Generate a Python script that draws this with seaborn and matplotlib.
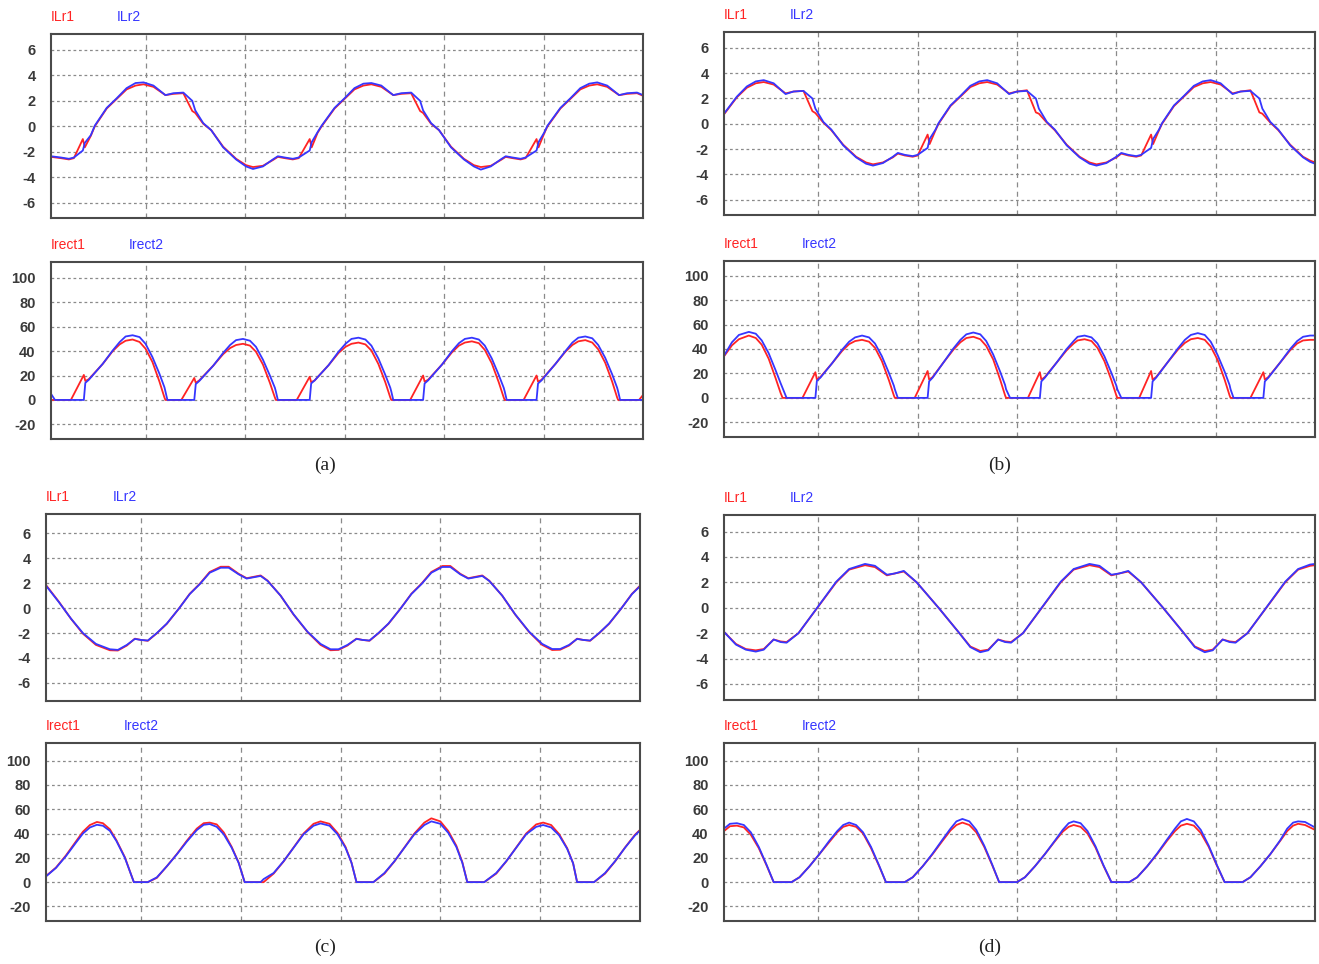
import pandas as pd
import matplotlib.pyplot as plt
import seaborn as sns

# ---------------- (a) ----------------
a_ilr_t = [0.05, 0.15, 0.23, 0.28, 0.37, 0.39, 0.45, 0.49, 0.61, 0.71, 0.81, 0.90, 0.98, 1.08, 1.20, 1.28,
           1.38, 1.47, 1.50, 1.58, 1.66, 1.78, 1.91, 2.01, 2.08, 2.18, 2.28, 2.33, 2.40, 2.48, 2.54, 2.65,
           2.67, 2.73, 2.77, 2.90, 3.00, 3.10, 3.19, 3.27, 3.37, 3.49, 3.57, 3.67, 3.76, 3.79, 3.87, 3.95,
           4.07, 4.20, 4.30, 4.37, 4.47, 4.57, 4.62, 4.69, 4.77, 4.82, 4.93, 4.95, 5.01, 5.04, 5.17, 5.27,
           5.37, 5.46, 5.54, 5.64, 5.76, 5.84, 5.94, 6.00]
a_ilr1 = [-2.40, -2.50, -2.60, -2.50, -1.00, -1.65, -0.75, 0.00, 1.40, 2.15, 2.90, 3.20, 3.30, 3.10, 2.45, 2.55,
          2.60, 1.20, 1.05, 0.20, -0.30, -1.60, -2.55, -3.05, -3.20, -3.10, -2.65, -2.40, -2.50, -2.60, -2.50, -1.00,
          -1.65, -0.50, 0.00, 1.40, 2.15, 2.90, 3.20, 3.30, 3.10, 2.45, 2.55, 2.60, 1.20, 1.05, 0.20, -0.30,
          -1.60, -2.55, -3.05, -3.20, -3.10, -2.65, -2.40, -2.50, -2.60, -2.50, -1.00, -1.65, -0.50, 0.00, 1.40, 2.15,
          2.90, 3.20, 3.30, 3.10, 2.45, 2.55, 2.60, 2.40]
a_ilr2 = [-2.35, -2.45, -2.55, -2.45, -1.90, -1.30, -0.70, 0.05, 1.45, 2.20, 3.00, 3.40, 3.45, 3.20, 2.45, 2.60,
          2.65, 2.00, 1.25, 0.25, -0.30, -1.65, -2.60, -3.15, -3.35, -3.15, -2.60, -2.35, -2.45, -2.55, -2.45, -1.90,
          -1.25, -0.45, 0.05, 1.45, 2.20, 3.00, 3.35, 3.40, 3.20, 2.45, 2.60, 2.65, 2.00, 1.25, 0.25, -0.30,
          -1.65, -2.60, -3.15, -3.40, -3.15, -2.60, -2.35, -2.45, -2.55, -2.45, -1.90, -1.25, -0.45, 0.05, 1.45, 2.20,
          3.00, 3.35, 3.45, 3.20, 2.45, 2.60, 2.65, 2.45]

a_irect_t = [0.05, 0.09, 0.25, 0.38, 0.395, 0.43, 0.57, 0.67, 0.74, 0.80, 0.87, 0.94, 1.00, 1.07, 1.14, 1.19, 1.20, 1.22,
             1.36, 1.49, 1.505, 1.54, 1.68, 1.78, 1.85, 1.91, 1.98, 2.05, 2.11, 2.18, 2.25, 2.30, 2.31, 2.33,
             2.52, 2.65, 2.665, 2.70, 2.84, 2.94, 3.01, 3.07, 3.14, 3.21, 3.27, 3.34, 3.41, 3.46, 3.47, 3.49,
             3.66, 3.79, 3.805, 3.84, 3.98, 4.08, 4.15, 4.21, 4.28, 4.35, 4.41, 4.48, 4.55, 4.60, 4.61, 4.63,
             4.80, 4.93, 4.945, 4.98, 5.12, 5.22, 5.29, 5.35, 5.42, 5.49, 5.55, 5.62, 5.69, 5.74, 5.75, 5.77,
             5.96, 6.00]
a_irect1 = [0, 0, 0, 20.5, 15.5, 17, 29.5, 40, 45.5, 48.5, 49.5, 47.5, 42, 31, 15, 2, 0, 0,
            0, 18, 14, 16, 28, 37.5, 42.5, 45, 46, 44.5, 39.5, 29, 14, 2, 0, 0,
            0, 19, 14.5, 16, 28.5, 38.5, 43.5, 46, 47, 45.5, 40.5, 29.5, 14.5, 2, 0, 0,
            0, 20, 15, 16.5, 29, 39, 44.5, 47, 48, 46.5, 41, 30, 14.5, 2, 0, 0,
            0, 20, 15, 16.5, 29.5, 39.5, 45, 48, 49, 47, 41.5, 30.5, 15, 2, 0, 0,
            0, 4]
a_irect2 = [5, 0, 0, 0, 14, 16.5, 29.6, 40.5, 47.4, 52, 53, 51.5, 46, 35, 21.4, 10.4, 7, 0,
            0, 0, 13, 15.5, 28, 38.5, 45, 49, 50, 48.5, 43.5, 33, 20, 10, 7, 0,
            0, 0, 13.5, 16, 28.5, 39.5, 46, 50, 51, 49.5, 44.5, 34, 20.5, 10, 7, 0,
            0, 0, 13.5, 16, 29, 40, 46.5, 50, 51, 49.5, 44.5, 34, 20.5, 10, 7, 0,
            0, 0, 13.5, 16, 29.5, 40, 47, 51, 52, 50.5, 45, 34.5, 21, 10, 7, 0,
            0, 0]

# ---------------- (b) ----------------
b_ilr_t = [0.05, 0.18, 0.28, 0.37, 0.45, 0.55, 0.67, 0.75, 0.85, 0.94, 0.97, 1.05, 1.13, 1.25, 1.38, 1.48,
           1.55, 1.65, 1.75, 1.80, 1.87, 1.95, 2.00, 2.10, 2.12, 2.18, 2.21, 2.33, 2.43, 2.53, 2.62, 2.70,
           2.80, 2.92, 3.00, 3.10, 3.19, 3.22, 3.30, 3.38, 3.50, 3.63, 3.73, 3.80, 3.90, 4.00, 4.05, 4.12,
           4.20, 4.25, 4.35, 4.37, 4.43, 4.46, 4.58, 4.68, 4.78, 4.87, 4.95, 5.05, 5.17, 5.25, 5.35, 5.44,
           5.47, 5.55, 5.63, 5.75, 5.88, 5.95, 6.00]
b_ilr1 = [0.75, 2.10, 2.85, 3.20, 3.30, 3.10, 2.40, 2.55, 2.60, 1.00, 0.85, 0.10, -0.50, -1.65, -2.60, -3.05,
          -3.20, -3.05, -2.65, -2.35, -2.50, -2.60, -2.50, -0.85, -1.60, -0.50, 0.00, 1.40, 2.15, 2.90, 3.20, 3.30,
          3.10, 2.40, 2.55, 2.65, 0.90, 0.80, 0.10, -0.50, -1.65, -2.60, -3.05, -3.20, -3.05, -2.65, -2.35, -2.50,
          -2.60, -2.50, -0.85, -1.60, -0.50, 0.00, 1.40, 2.15, 2.90, 3.20, 3.30, 3.10, 2.40, 2.55, 2.65, 0.90,
          0.80, 0.10, -0.50, -1.65, -2.60, -2.90, -3.05]
b_ilr2 = [0.80, 2.15, 2.95, 3.35, 3.45, 3.20, 2.35, 2.55, 2.60, 2.00, 1.20, 0.15, -0.45, -1.70, -2.65, -3.15,
          -3.30, -3.10, -2.60, -2.30, -2.45, -2.55, -2.45, -1.90, -1.20, -0.45, 0.05, 1.45, 2.20, 3.00, 3.35, 3.45,
          3.20, 2.35, 2.55, 2.60, 2.00, 1.20, 0.15, -0.45, -1.70, -2.65, -3.15, -3.30, -3.10, -2.60, -2.30, -2.45,
          -2.55, -2.45, -1.90, -1.20, -0.45, 0.05, 1.45, 2.20, 3.00, 3.35, 3.45, 3.20, 2.35, 2.55, 2.60, 2.00,
          1.20, 0.15, -0.45, -1.70, -2.65, -3.00, -3.15]

b_irect_t = [0.05, 0.13, 0.20, 0.30, 0.37, 0.43, 0.50, 0.57, 0.62, 0.64, 0.68,
             0.84, 0.97, 0.985, 1.02, 1.14, 1.24, 1.31, 1.37, 1.44, 1.51, 1.57, 1.64, 1.71, 1.76, 1.77, 1.80,
             1.97, 2.10, 2.115, 2.15, 2.26, 2.36, 2.43, 2.49, 2.56, 2.63, 2.69, 2.76, 2.83, 2.88, 2.89, 2.93,
             3.11, 3.23, 3.245, 3.28, 3.40, 3.50, 3.57, 3.61, 3.68, 3.75, 3.81, 3.88, 3.95, 4.00, 4.01, 4.05,
             4.23, 4.35, 4.365, 4.40, 4.52, 4.62, 4.69, 4.75, 4.82, 4.89, 4.95, 5.02, 5.09, 5.14, 5.15, 5.18,
             5.35, 5.48, 5.495, 5.53, 5.65, 5.75, 5.82, 5.88, 5.95, 6.00]
b_irect1 = [34, 43, 48, 51, 49, 43.5, 32, 16, 4, 0, 0,
            0, 21, 15, 17, 28.5, 38.5, 44, 46.5, 47.5, 46, 41, 30, 14.5, 2, 0, 0,
            0, 22, 15, 17, 29, 39.5, 45.5, 49, 50, 48, 42.5, 31.5, 15, 2, 0, 0,
            0, 21, 15, 17, 29, 39, 44.5, 47, 48, 46.5, 41, 30, 14.5, 2, 0, 0,
            0, 22, 15, 17, 29.5, 39.5, 45, 48, 49, 47.5, 42, 31, 15, 2, 0, 0,
            0, 21, 15, 17, 29, 39, 44.5, 47, 47.5, 47.5]
b_irect2 = [34.5, 45.5, 51.5, 54, 52.5, 47, 36.5, 22.5, 12, 8, 0,
            0, 0, 14, 16.5, 28.5, 39.5, 46, 49.5, 51, 49.5, 44.5, 34, 20.5, 10, 7, 0,
            0, 0, 13.5, 16.5, 29, 40.5, 47.5, 52, 53.5, 52, 46.5, 35.5, 21.5, 10.5, 7, 0,
            0, 0, 13.5, 16.5, 29, 40, 46.5, 50, 51, 49.5, 44.5, 34, 20.5, 10, 7, 0,
            0, 0, 13.5, 16.5, 29.5, 40.5, 47.5, 51.5, 53, 51.5, 46, 35, 21.5, 10.5, 7, 0,
            0, 0, 13.5, 16.5, 29, 40, 46.5, 50, 51, 51]

# ---------------- (c) ----------------
c_ilr_t = [0.05, 0.18, 0.30, 0.42, 0.55, 0.69, 0.77, 0.86, 0.94, 1.00, 1.07, 1.16, 1.26, 1.38, 1.49, 1.59,
           1.69, 1.80, 1.88, 1.98, 2.06, 2.20, 2.27, 2.40, 2.53, 2.67, 2.80, 2.90, 2.98, 3.07, 3.16, 3.22,
           3.29, 3.38, 3.48, 3.60, 3.71, 3.81, 3.91, 4.02, 4.10, 4.20, 4.28, 4.42, 4.49, 4.62, 4.75, 4.89,
           5.02, 5.12, 5.20, 5.29, 5.37, 5.43, 5.50, 5.59, 5.69, 5.81, 5.92, 6.00]
c_ilr1 = [1.85, 0.50, -0.85, -2.05, -2.95, -3.38, -3.40, -3.00, -2.45, -2.55, -2.62, -2.02, -1.26, -0.05, 1.15, 1.95,
          2.90, 3.32, 3.32, 2.75, 2.40, 2.62, 2.20, 1.00, -0.52, -1.92, -2.95, -3.38, -3.35, -3.00, -2.45, -2.55,
          -2.62, -2.02, -1.26, -0.05, 1.15, 1.95, 2.90, 3.38, 3.38, 2.75, 2.40, 2.62, 2.20, 1.00, -0.52, -1.92,
          -2.95, -3.36, -3.34, -3.00, -2.45, -2.55, -2.62, -2.02, -1.26, -0.05, 1.15, 1.80]
c_ilr2 = [1.80, 0.47, -0.84, -2.00, -2.87, -3.30, -3.35, -2.95, -2.47, -2.55, -2.60, -2.00, -1.24, -0.05, 1.13, 1.92,
          2.84, 3.24, 3.24, 2.71, 2.37, 2.58, 2.18, 1.00, -0.50, -1.90, -2.87, -3.30, -3.30, -2.95, -2.47, -2.55,
          -2.60, -2.00, -1.24, -0.05, 1.13, 1.92, 2.84, 3.30, 3.30, 2.71, 2.37, 2.58, 2.18, 1.00, -0.50, -1.90,
          -2.87, -3.28, -3.28, -2.95, -2.47, -2.55, -2.60, -2.00, -1.24, -0.05, 1.13, 1.75]

c_irect_t = [0.05, 0.15, 0.25, 0.35, 0.42, 0.49, 0.56, 0.62, 0.69, 0.755, 0.84, 0.89, 0.93,
             1.07, 1.16, 1.26, 1.36, 1.46, 1.56, 1.63, 1.69, 1.76, 1.83, 1.91, 1.98, 2.04,
             2.20, 2.23, 2.33, 2.43, 2.53, 2.63, 2.73, 2.80, 2.89, 2.97, 3.05, 3.11, 3.16,
             3.33, 3.44, 3.54, 3.64, 3.74, 3.84, 3.91, 4.00, 4.08, 4.16, 4.22, 4.27,
             4.44, 4.56, 4.66, 4.76, 4.86, 4.96, 5.03, 5.11, 5.19, 5.27, 5.33, 5.37,
             5.54, 5.65, 5.75, 5.85, 5.95, 6.00]
c_irect1 = [5.0, 12, 22, 33.5, 41.5, 47, 49.5, 48.5, 43.5, 34.5, 20.5, 9, 0,
            0, 3.5, 13, 23, 34, 44, 48.5, 49, 47.5, 41, 29, 16, 0,
            0, 0, 7, 17, 28.5, 40, 48, 50, 48, 40.5, 29, 16, 0,
            0, 7, 17, 28.5, 40, 49, 52.5, 50, 42, 30, 16.5, 0,
            0, 7, 17, 28.5, 40, 47.5, 49, 47, 39.5, 28, 15.5, 0,
            0, 7, 17, 28.5, 39, 43]
c_irect2 = [4.7, 11.7, 21.4, 32.5, 40, 45, 47.2, 46.4, 42.2, 33.9, 20, 8.9, 0,
            0, 3.9, 13, 22.8, 33.3, 42.8, 47.2, 47.8, 45.5, 39.4, 28.3, 15.8, 0,
            0, 2.5, 7.5, 17.2, 28.3, 39.4, 46.4, 48.3, 46.4, 39.4, 28.3, 16, 0,
            0, 7.5, 17.2, 28.3, 39.4, 47, 50, 48, 40.5, 29, 16, 0,
            0, 7.5, 17.2, 28.3, 39.4, 45.5, 47, 45, 38.5, 27.5, 15.5, 0,
            0, 7.5, 17.2, 28.3, 38.5, 42.5]

# ---------------- (d) ----------------
d_ilr_t = [0.05, 0.17, 0.27, 0.37, 0.45, 0.55, 0.62, 0.68, 0.80, 0.99, 1.18, 1.31, 1.47, 1.57, 1.69, 1.77,
           1.86, 1.99, 2.21, 2.42, 2.53, 2.63, 2.71, 2.81, 2.88, 2.94, 3.06, 3.25, 3.44, 3.57, 3.73, 3.83,
           3.95, 4.03, 4.12, 4.25, 4.47, 4.68, 4.79, 4.89, 4.97, 5.07, 5.14, 5.20, 5.32, 5.51, 5.70, 5.83,
           5.95, 6.00]
d_ilr1 = [-1.90, -2.85, -3.25, -3.35, -3.25, -2.50, -2.65, -2.70, -2.00, 0.00, 2.00, 3.00, 3.35, 3.20, 2.55, 2.70,
          2.85, 2.00, 0.00, -2.00, -3.05, -3.40, -3.30, -2.50, -2.65, -2.70, -2.00, 0.00, 2.00, 3.00, 3.35, 3.20,
          2.55, 2.70, 2.85, 2.00, 0.00, -2.00, -3.05, -3.40, -3.30, -2.50, -2.65, -2.70, -2.00, 0.00, 2.00, 3.00,
          3.30, 3.35]
d_ilr2 = [-1.90, -2.90, -3.30, -3.45, -3.30, -2.50, -2.70, -2.75, -2.00, 0.02, 2.05, 3.05, 3.45, 3.30, 2.60, 2.70,
          2.90, 2.00, 0.00, -2.00, -3.10, -3.50, -3.35, -2.50, -2.70, -2.75, -2.00, 0.02, 2.05, 3.05, 3.45, 3.30,
          2.60, 2.70, 2.90, 2.00, 0.00, -2.00, -3.10, -3.50, -3.35, -2.50, -2.70, -2.75, -2.00, 0.02, 2.05, 3.05,
          3.40, 3.45]

d_irect_t = [0.05, 0.11, 0.18, 0.25, 0.32, 0.40, 0.48, 0.55,
             0.73, 0.81, 0.91, 1.01, 1.11, 1.19, 1.25, 1.31, 1.38, 1.45, 1.53, 1.61, 1.68,
             1.87, 1.95, 2.05, 2.15, 2.25, 2.33, 2.39, 2.45, 2.52, 2.59, 2.67, 2.75, 2.82,
             3.00, 3.08, 3.18, 3.28, 3.38, 3.46, 3.52, 3.57, 3.64, 3.71, 3.79, 3.87, 3.95,
             4.13, 4.21, 4.31, 4.41, 4.51, 4.59, 4.65, 4.71, 4.78, 4.85, 4.93, 5.01, 5.09,
             5.27, 5.35, 5.45, 5.55, 5.65, 5.72, 5.78, 5.83, 5.90, 6.00]
d_irect1 = [42, 46, 46.5, 45, 39, 28, 13.5, 0,
            0, 4, 13, 23, 33, 41, 45.5, 47, 45.5, 40, 28, 13.5, 0,
            0, 4, 13, 23, 34, 42.5, 47, 49, 47, 41, 29, 14, 0,
            0, 4, 13, 23, 33.5, 41.5, 45.5, 47, 45.5, 40, 28.5, 13.5, 0,
            0, 4, 13, 23, 34, 42, 46.5, 48, 46.5, 40.5, 29, 14, 0,
            0, 4, 13, 23, 34, 42, 46.5, 48, 47, 43]
d_irect2 = [44, 48, 48.5, 47, 41, 29, 14, 0,
            0, 4, 13, 23, 34, 42, 47, 49, 47, 41, 29, 14, 0,
            0, 4, 13, 23.5, 35, 44, 50, 52, 50, 43, 30, 14.5, 0,
            0, 4, 13, 23, 34, 43, 48.5, 50, 48.5, 42, 29.5, 14, 0,
            0, 4, 13, 23.5, 35, 44, 50, 52, 50, 43, 30, 14.5, 0,
            0, 4, 13, 23, 34.5, 44, 49, 50, 49.5, 45]

ilr_ticks = [-6, -4, -2, 0, 2, 4, 6]
irect_ticks = [-20, 0, 20, 40, 60, 80, 100]
rejilla_t = [1, 2, 3, 4, 5]

W, H = 1319, 964
ROJO = '#ff2424'
AZUL = '#3636ff'
GRIS = '#8a8a8a'

sns.set_theme(style='white')
plt.rcParams['font.family'] = ['Liberation Sans', 'DejaVu Sans']

fig = plt.figure(figsize=(W / 100, H / 100), dpi=100)


def grafica(caja, t, s1, s2, ylim, yticks, nombres, dx2):
    izq, arriba, der, abajo = caja
    ax = fig.add_axes([izq / W, 1 - abajo / H, (der - izq) / W, (abajo - arriba) / H])
    df = pd.DataFrame({'t': t, nombres[0]: s1, nombres[1]: s2})
    sns.lineplot(data=df, x='t', y=nombres[0], ax=ax, color=ROJO, lw=1.3,
                 estimator=None, sort=False, legend=False)
    sns.lineplot(data=df, x='t', y=nombres[1], ax=ax, color=AZUL, lw=1.3,
                 estimator=None, sort=False, legend=False)
    ax.set_xlim(0.05, 6.0)
    ax.set_ylim(*ylim)
    ax.set_xticks(rejilla_t)
    ax.set_xticklabels([])
    ax.set_yticks(yticks)
    ax.set_yticklabels([str(v) for v in yticks], fontsize=10.5, fontweight='bold', color='#3a3a3a')
    ax.tick_params(axis='both', length=0)
    ax.tick_params(axis='y', pad=11)
    ax.set_xlabel('')
    ax.set_ylabel('')
    ax.xaxis.grid(True, linestyle=(0, (4, 3.5)), color=GRIS, lw=0.9)
    ax.yaxis.grid(True, linestyle=(0, (2.2, 2.2)), color=GRIS, lw=0.9)
    ax.set_axisbelow(True)
    for s in ax.spines.values():
        s.set_color('#4a4a4a')
        s.set_linewidth(1.5)
    # nombres de las señales encima del recuadro
    yt = 1 - (arriba - 17) / H
    fig.text(izq / W, yt, nombres[0], color=ROJO, fontsize=10, va='center')
    fig.text((izq + dx2) / W, yt, nombres[1], color=AZUL, fontsize=10, va='center')
    return ax


grafica((51, 34, 643, 218), a_ilr_t, a_ilr1, a_ilr2, (-7.2, 7.25), ilr_ticks, ['ILr1', 'ILr2'], 66)
grafica((51, 262, 643, 439), a_irect_t, a_irect1, a_irect2, (-32, 113), irect_ticks, ['Irect1', 'Irect2'], 78)
grafica((724, 32, 1315, 215), b_ilr_t, b_ilr1, b_ilr2, (-7.2, 7.25), ilr_ticks, ['ILr1', 'ILr2'], 66)
grafica((724, 261, 1315, 437), b_irect_t, b_irect1, b_irect2, (-32, 112), irect_ticks, ['Irect1', 'Irect2'], 78)
grafica((46, 514, 640, 701), c_ilr_t, c_ilr1, c_ilr2, (-7.45, 7.55), ilr_ticks, ['ILr1', 'ILr2'], 67)
grafica((46, 743, 640, 921), c_irect_t, c_irect1, c_irect2, (-32, 114.5), irect_ticks, ['Irect1', 'Irect2'], 78)
grafica((724, 515, 1315, 700), d_ilr_t, d_ilr1, d_ilr2, (-7.26, 7.3), ilr_ticks, ['ILr1', 'ILr2'], 66)
grafica((724, 743, 1315, 921), d_irect_t, d_irect1, d_irect2, (-32, 114.5), irect_ticks, ['Irect1', 'Irect2'], 78)

for letra, x, y in [('(a)', 325, 465), ('(b)', 1000, 465), ('(c)', 325, 947), ('(d)', 990, 947)]:
    fig.text(x / W, 1 - y / H, letra, fontsize=14, ha='center', va='center',
             family=['Liberation Serif', 'DejaVu Serif'], color='#222222')

fig.savefig('out.png', dpi=100, facecolor='white')
